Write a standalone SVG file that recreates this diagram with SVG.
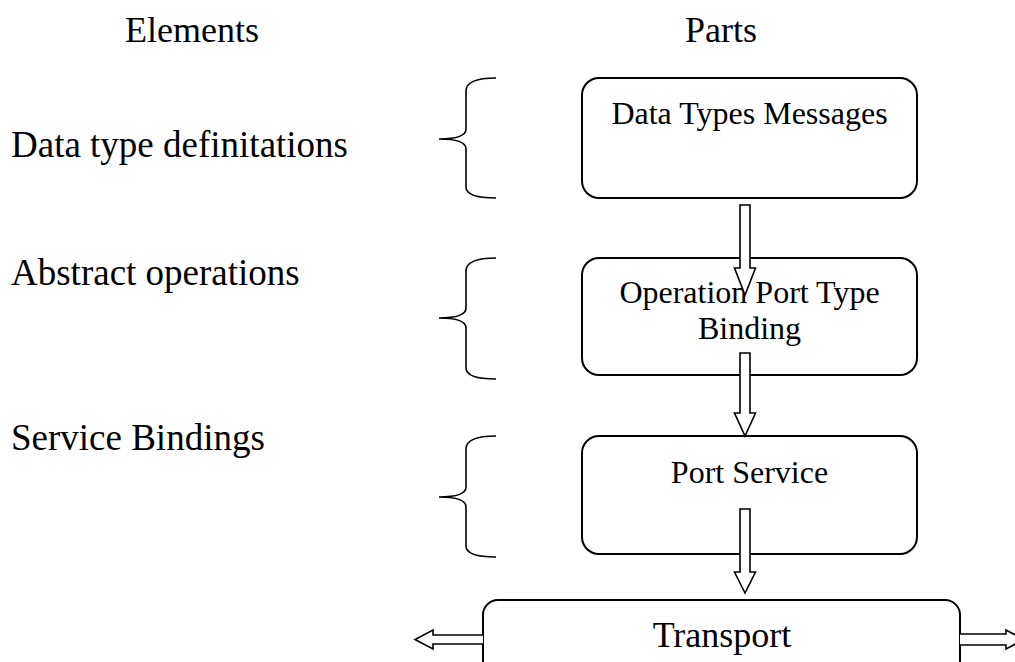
<svg xmlns="http://www.w3.org/2000/svg" width="1015" height="662" viewBox="0 0 1015 662">
<style>
text{font-family:"Liberation Serif","Times New Roman",serif;fill:#000}
.lbl{font-size:37px}
.hdr{font-size:36px}
.bt{font-size:32px;text-anchor:middle}
.box{fill:#fff;stroke:#000;stroke-width:2}
.brace{fill:none;stroke:#000;stroke-width:1.6}
.arr{fill:#fff;stroke:#000;stroke-width:1.6;stroke-linejoin:miter}
</style>
<rect width="1015" height="662" fill="#fff"/>
<g id="headers">
<text class="hdr" x="125" y="42">Elements</text>
<text class="hdr" x="685" y="42">Parts</text>
</g>
<g id="elem-data">
<text class="lbl" x="11" y="157">Data type definitations</text>
<path class="brace" d="M496,78 C478,78 466,81 466,91 L466,129 C466,135 458,139 439,139 C458,139 466,143 466,149 L466,187 C466,195 478,198 496,198"/>
</g>
<g id="elem-abstract">
<text class="lbl" x="11" y="285">Abstract operations</text>
<path class="brace" d="M496,258 C478,258 466,261 466,271 L466,308 C466,314 458,318 439,318 C458,318 466,322 466,328 L466,368 C466,376 478,379 496,379"/>
</g>
<g id="elem-service">
<text class="lbl" x="11" y="450">Service Bindings</text>
<path class="brace" d="M496,436 C478,436 466,439 466,449 L466,487 C466,493 458,497 439,497 C458,497 466,501 466,507 L466,546 C466,554 478,557 496,557"/>
</g>
<g id="node-datatypes">
<rect class="box" x="582" y="78" width="335" height="120" rx="17"/>
<text class="bt" x="749.5" y="124">Data Types Messages</text>
</g>
<g id="node-operation">
<rect class="box" x="582" y="258" width="335" height="117" rx="17"/>
<text class="bt" x="749.5" y="303">Operation Port Type</text>
<text class="bt" x="749.5" y="339">Binding</text>
</g>
<g id="node-port">
<rect class="box" x="582" y="436" width="335" height="118" rx="17"/>
<text class="bt" x="749.5" y="483">Port Service</text>
</g>
<g id="node-transport">
<rect class="box" x="483" y="600" width="477" height="100" rx="15"/>
<text x="722" y="647" style="font-size:36px;text-anchor:middle">Transport</text>
</g>
<g id="connectors">
<path class="arr" d="M740,205 L750,205 L750,268 L755.5,268 L745,295 L734.5,268 L740,268 Z"/>
<path class="arr" d="M740,353 L750,353 L750,413 L755.5,413 L745,436 L734.5,413 L740,413 Z"/>
<path class="arr" d="M740,509 L750,509 L750,572 L755.5,572 L745,593 L734.5,572 L740,572 Z"/>
<path class="arr" d="M483,635 L433,635 L433,630 L415,639.5 L433,649 L433,644 L483,644"/>
<path class="arr" d="M960,634 L1006,634 L1006,630 L1024,639.5 L1006,649 L1006,645 L960,645"/>
</g>
</svg>
